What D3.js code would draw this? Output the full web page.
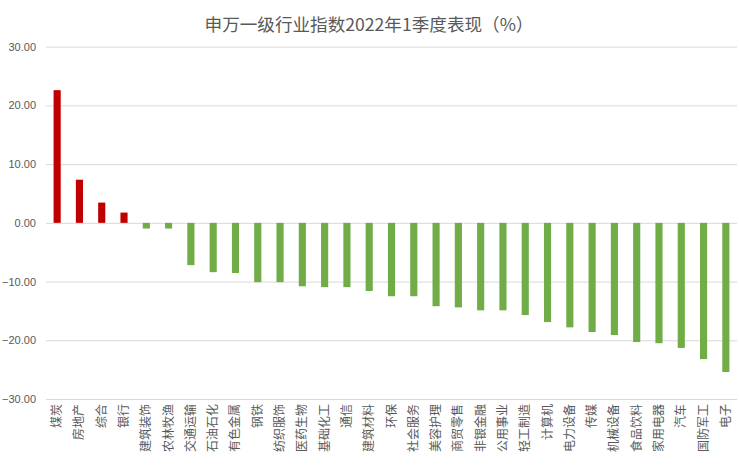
<!DOCTYPE html>
<html>
<head>
<meta charset="utf-8">
<script src="https://cdn.jsdelivr.net/npm/d3@7"></script>
<style>
  html, body { margin: 0; padding: 0; background: #fff; }
  svg { display: block; }
</style>
</head>
<body>
<svg id="chart" width="739" height="471"></svg>
<script>
const titleText = "申万一级行业指数2022年1季度表现（%）";
const categories = ["煤炭","房地产","综合","银行","建筑装饰","农林牧渔","交通运输","石油石化","有色金属","钢铁","纺织服饰","医药生物","基础化工","通信","建筑材料","环保","社会服务","美容护理","商贸零售","非银金融","公用事业","轻工制造","计算机","电力设备","传媒","机械设备","食品饮料","家用电器","汽车","国防军工","电子"];
const values = [22.6, 7.35, 3.45, 1.75, -0.97, -0.97, -7.2, -8.4, -8.55, -10.1, -10.1, -10.8, -10.95, -10.95, -11.6, -12.5, -12.5, -14.2, -14.4, -14.9, -14.9, -15.7, -16.9, -17.8, -18.6, -19.1, -20.3, -20.5, -21.3, -23.2, -25.4];
const yTicks = [-30, -20, -10, 0, 10, 20, 30];

const svg = d3.select("#chart");
const x = d3.scaleBand().domain(categories).range([46, 737]).paddingInner(0.68).paddingOuter(0.34);
const y = d3.scaleLinear().domain([-30, 30]).range([399, 46.7]);

svg.append("text")
  .attr("x", 369).attr("y", 31)
  .attr("text-anchor", "middle")
  .attr("font-family", "'Noto Sans CJK SC', sans-serif")
  .attr("font-size", 17.6)
  .attr("fill", "#595959")
  .text(titleText);

// gridlines
const yAxis = d3.axisLeft(y).tickValues(yTicks).tickSize(-(737 - 46)).tickFormat(d3.format(".2f"));
const gAxis = svg.append("g").attr("transform", "translate(46,0)").call(yAxis);
gAxis.select(".domain").remove();
gAxis.selectAll(".tick line").attr("stroke", "#D9D9D9").attr("stroke-width", 1);
gAxis.selectAll(".tick text")
  .attr("x", -10)
  .attr("fill", "#595959")
  .attr("font-family", "'Liberation Sans', Arial, sans-serif")
  .attr("font-size", 11);

// bars
svg.append("g").selectAll("rect").data(categories).join("rect")
  .attr("x", d => x(d))
  .attr("width", x.bandwidth())
  .attr("y", (d, i) => y(Math.max(0, values[i])))
  .attr("height", (d, i) => Math.abs(y(values[i]) - y(0)))
  .attr("fill", (d, i) => values[i] >= 0 ? "#C00000" : "#70AD47");

// x labels (rotated)
svg.append("g").selectAll("text").data(categories).join("text")
  .attr("transform", d => `translate(${x(d) + x.bandwidth() / 2 + 4},404) rotate(-90)`)
  .attr("text-anchor", "end")
  .attr("font-family", "'Noto Sans CJK SC', sans-serif")
  .attr("font-size", 12)
  .attr("fill", "#595959")
  .text(d => d);
</script>
</body>
</html>
